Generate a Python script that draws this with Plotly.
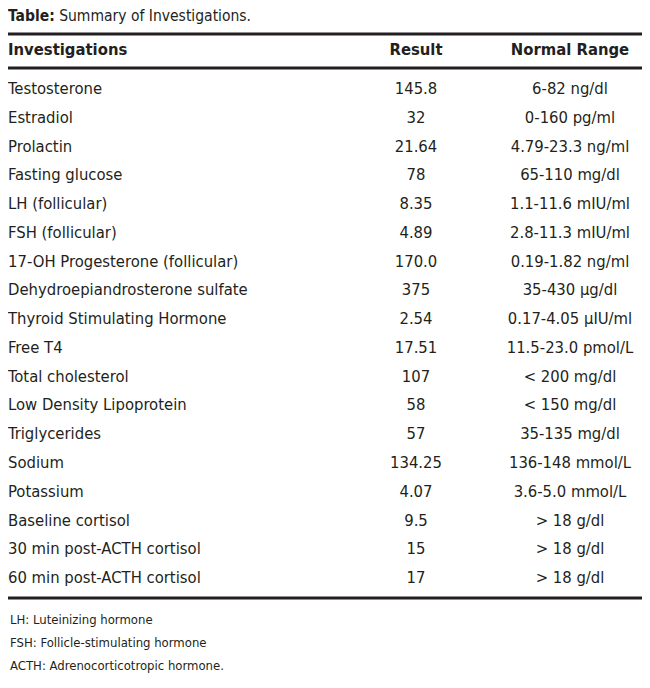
import plotly.graph_objects as go

# table content
investigations = ["Testosterone", "Estradiol", "Prolactin", "Fasting glucose",
                  "LH (follicular)", "FSH (follicular)",
                  "17-OH Progesterone (follicular)",
                  "Dehydroepiandrosterone sulfate",
                  "Thyroid Stimulating Hormone", "Free T4",
                  "Total cholesterol", "Low Density Lipoprotein",
                  "Triglycerides", "Sodium", "Potassium", "Baseline cortisol",
                  "30 min post-ACTH cortisol", "60 min post-ACTH cortisol"]
results = ["145.8", "32", "21.64", "78", "8.35", "4.89", "170.0", "375",
           "2.54", "17.51", "107", "58", "57", "134.25", "4.07", "9.5",
           "15", "17"]
normal_range = ["6-82 ng/dl", "0-160 pg/ml", "4.79-23.3 ng/ml",
                "65-110 mg/dl", "1.1-11.6 mIU/ml", "2.8-11.3 mIU/ml",
                "0.19-1.82 ng/ml", "35-430 µg/dl", "0.17-4.05 µIU/ml",
                "11.5-23.0 pmol/L", "< 200 mg/dl", "< 150 mg/dl",
                "35-135 mg/dl", "136-148 mmol/L", "3.6-5.0 mmol/L",
                "> 18 g/dl", "> 18 g/dl", "> 18 g/dl"]
headers = ["Investigations", "Result", "Normal Range"]
footnotes = ["LH: Luteinizing hormone", "FSH: Follicle-stimulating hormone",
             "ACTH: Adrenocorticotropic hormone."]
title_bold = "Table:"
title_rest = "Summary of Investigations."

FONT = "DejaVu Sans Condensed, Liberation Sans Narrow, sans-serif"
INK = "#231f20"
W, H = 650, 688
OFF = 8  # page body margin around the plot div

# row geometry (page pixels)
row0 = 90.0
step = 28.76


def py(p):
    # page pixel y -> row units
    return (p - row0) / step


rows = list(range(len(investigations)))
cols = {"inv": 8, "res": 416, "rng": 570}

fig = go.Figure()
fig.add_trace(go.Scatter(x=[cols["inv"]] * len(rows), y=rows,
                         text=investigations, mode="text",
                         textposition="middle right",
                         textfont=dict(family=FONT, size=16.5, color=INK),
                         hoverinfo="skip"))
fig.add_trace(go.Scatter(x=[cols["res"]] * len(rows), y=rows, text=results,
                         mode="text", textposition="middle center",
                         textfont=dict(family=FONT, size=16.5, color=INK),
                         hoverinfo="skip"))
fig.add_trace(go.Scatter(x=[cols["rng"]] * len(rows), y=rows,
                         text=normal_range, mode="text",
                         textposition="middle center",
                         textfont=dict(family=FONT, size=16.5, color=INK),
                         hoverinfo="skip"))

# header
hy = py(51)
fig.add_trace(go.Scatter(x=[cols["inv"]], y=[hy],
                         text=["<b>%s</b>" % headers[0]],
                         mode="text", textposition="middle right",
                         textfont=dict(family=FONT, size=16.5, color=INK),
                         hoverinfo="skip"))
fig.add_trace(go.Scatter(x=[cols["res"], cols["rng"]], y=[hy, hy],
                         text=["<b>%s</b>" % h for h in headers[1:]],
                         mode="text", textposition="middle center",
                         textfont=dict(family=FONT, size=16.5, color=INK),
                         hoverinfo="skip"))

# title and footnotes
fig.add_trace(go.Scatter(x=[8], y=[py(17)],
                         text=["<b>%s</b> %s" % (title_bold, title_rest)],
                         mode="text", textposition="middle right",
                         textfont=dict(family=FONT, size=15.5, color=INK),
                         hoverinfo="skip", cliponaxis=False))
for i, f in enumerate(footnotes):
    fig.add_annotation(x=8, y=py(619 + i * 23), xref="x", yref="y",
                       xanchor="left", showarrow=False, text=f,
                       font=dict(family=FONT, size=13, color=INK))

# rules
for p in [34, 68, 598]:
    fig.add_shape(type="line", x0=4, x1=646, y0=py(p), y1=py(p),
                  xref="x", yref="y", line=dict(color=INK, width=3))

fig.update_xaxes(range=[OFF, W + OFF], visible=False, fixedrange=True)
fig.update_yaxes(range=[py(H + OFF), py(OFF)], visible=False, fixedrange=True)
fig.update_layout(width=W, height=H, margin=dict(l=0, r=0, t=0, b=0),
                  showlegend=False, plot_bgcolor="white",
                  paper_bgcolor="white")
fig.write_html("out.html")
